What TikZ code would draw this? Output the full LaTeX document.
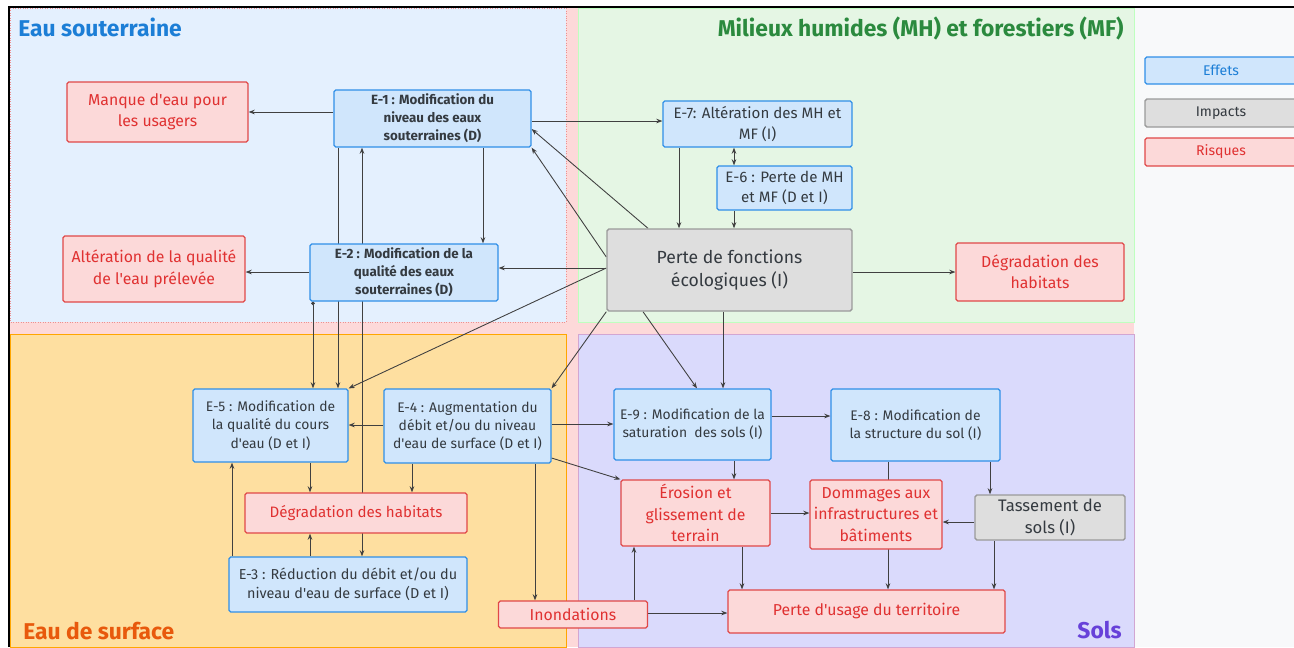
\documentclass[tikz,border=0pt]{standalone}
\usepackage{fontspec}
\setmainfont{Fira Sans}[Ligatures=TeXOff]
\usetikzlibrary{arrows.meta}

\definecolor{bleuzone}{HTML}{E4F0FE}
\definecolor{vertzone}{HTML}{E5F6E4}
\definecolor{orangezone}{HTML}{FEDFA0}
\definecolor{violetzone}{HTML}{DADAFC}
\definecolor{rosezone}{HTML}{FDD9D9}
\definecolor{fondgris}{HTML}{F8F9FA}
\definecolor{effetfill}{HTML}{D0E6FC}
\definecolor{effetline}{HTML}{2F8FE8}
\definecolor{risquefill}{HTML}{FCD9D9}
\definecolor{risqueline}{HTML}{E04848}
\definecolor{risquetext}{HTML}{E03131}
\definecolor{impactfill}{HTML}{DEDEDE}
\definecolor{impactline}{HTML}{9A9A9A}
\definecolor{texte}{HTML}{343A40}
\definecolor{gristrait}{HTML}{404040}
\definecolor{titrebleu}{HTML}{1C7ED6}
\definecolor{titrevert}{HTML}{2B8A3E}
\definecolor{titreorange}{HTML}{E8590C}
\definecolor{titreviolet}{HTML}{6741D9}

\pgfdeclarelayer{zones}
\pgfdeclarelayer{links}
\pgfsetlayers{zones,links,main}

\begin{document}
\begin{tikzpicture}[x=0.02cm, y=-0.02cm,
    effet/.style={draw=effetline, fill=effetfill, line width=0.7pt, rounded corners=1pt, align=center, text=texte, inner sep=1pt, font=\fontsize{7.9}{10.3}\selectfont},
    risque/.style={draw=risqueline, fill=risquefill, line width=0.7pt, rounded corners=1pt, align=center, text=risquetext, inner sep=1pt, font=\fontsize{9}{12.2}\selectfont},
    impact/.style={draw=impactline, fill=impactfill, line width=0.8pt, rounded corners=1pt, align=center, text=texte, inner sep=1pt, font=\fontsize{9.5}{13}\selectfont},
    lien/.style={draw=gristrait, line width=0.5pt, -{Stealth[length=3.5pt, width=2.6pt]}},
    doublelien/.style={lien, {Stealth[length=3.5pt, width=2.6pt]}-{Stealth[length=3.5pt, width=2.6pt]}},
    titre/.style={font=\fontsize{13}{15}\selectfont\bfseries, inner sep=0pt}]
    \useasboundingbox (0,0) rectangle (1294,647);

    % zones
    \begin{pgfonlayer}{zones}
        \fill[white] (0,0) rectangle (1294,647);
        \fill[fondgris] (9,7) rectangle (1294,647);
        \fill[rosezone] (10,8) rectangle (1134,647);
        \filldraw[fill=bleuzone, draw=risqueline!60, densely dotted, line width=0.4pt] (10,8) rectangle (566,322);
        \filldraw[fill=vertzone, draw=green!25!white, line width=0.4pt] (578,8) rectangle (1134,322);
        \filldraw[fill=orangezone, draw=orange!70!yellow, line width=0.4pt] (10,334) rectangle (566,647);
        \filldraw[fill=violetzone, draw=violet!35!white, line width=0.4pt] (578,334) rectangle (1134,647);
        \draw[black, line width=1.2pt] (9,647) -- (9,7) -- (1294,7);
    \end{pgfonlayer}

    \node[titre, text=titrebleu, anchor=west] (tsout) at (18,27) {Eau souterraine};
    \node[titre, text=titrevert, anchor=east] (tmilieux) at (1124,28) {Milieux humides (MH) et forestiers (MF)};
    \node[titre, text=titreorange, anchor=west] (tsurface) at (23,631) {Eau de surface};
    \node[titre, text=titreviolet, anchor=east] (tsols) at (1122,630) {Sols};

    % legende
    \node[effet, text=titrebleu, minimum width=3.04cm, minimum height=0.54cm, font=\fontsize{8}{10}\selectfont] (leffets) at (1221,70.5) {Effets};
    \node[impact, minimum width=3.04cm, minimum height=0.56cm, font=\fontsize{8}{10}\selectfont] (limpacts) at (1221,113) {Impacts};
    \node[risque, minimum width=3.04cm, minimum height=0.56cm, font=\fontsize{8}{10}\selectfont] (lrisques) at (1221,152) {Risques};

    % eau souterraine
    \node[risque, minimum width=3.62cm, minimum height=1.2cm] (manque) at (157.5,112) {Manque d'eau pour\\les usagers};
    \node[effet, minimum width=3.94cm, minimum height=1.14cm, font=\fontsize{7.6}{10.3}\selectfont\bfseries] (e1) at (432.5,118.5) {E-1 : Modification du\\niveau des eaux\\souterraines (D)};
    \node[risque, minimum width=3.64cm, minimum height=1.32cm] (alteration) at (154,269) {Altération de la qualité\\de l'eau prélevée};
    \node[effet, minimum width=3.76cm, minimum height=1.14cm, font=\fontsize{7.6}{10.3}\selectfont\bfseries] (e2) at (404,272.5) {E-2 : Modification de la\\qualité des eaux\\souterraines (D)};

    % milieux humides
    \node[effet, minimum width=3.78cm, minimum height=0.92cm, font=\fontsize{8.6}{11.8}\selectfont] (e7) at (757.5,124) {E-7: Altération des MH et\\MF (I)};
    \node[effet, minimum width=2.7cm, minimum height=0.88cm, font=\fontsize{8.6}{11.8}\selectfont] (e6) at (784.5,188) {E-6 : Perte de MH\\et MF (D et I)};
    \node[impact, minimum width=4.9cm, minimum height=1.64cm, font=\fontsize{10}{13.6}\selectfont] (perte) at (729.5,270) {Perte de fonctions\\écologiques (I)};
    \node[risque, minimum width=3.36cm, minimum height=1.16cm] (degrmh) at (1040,272) {Dégradation des\\habitats};

    % eau de surface
    \node[effet, minimum width=3.1cm, minimum height=1.46cm] (e5) at (270.5,425.5) {E-5 : Modification de\\la qualité du cours\\d'eau (D et I)};
    \node[effet, minimum width=3.34cm, minimum height=1.48cm] (e4) at (467.5,426) {E-4 : Augmentation du\\débit et/ou du niveau\\d'eau de surface (D et I)};
    \node[risque, minimum width=4.44cm, minimum height=0.8cm, font=\fontsize{8.6}{11}\selectfont] (degres) at (356,513) {Dégradation des habitats};
    \node[effet, minimum width=4.76cm, minimum height=1.1cm, font=\fontsize{8.2}{10.8}\selectfont] (e3) at (348,584.5) {E-3 : Réduction du débit et/ou du\\niveau d'eau de surface (D et I)};
    \node[risque, minimum width=2.98cm, minimum height=0.54cm] (inond) at (573,614.5) {Inondations};

    % sols
    \node[effet, minimum width=3.14cm, minimum height=1.42cm] (e9) at (692.5,424.5) {E-9 : Modification de la\\saturation\ \ des sols (I)};
    \node[effet, minimum width=3.38cm, minimum height=1.44cm] (e8) at (915.5,425) {E-8 : Modification de\\la structure du sol (I)};
    \node[risque, minimum width=2.98cm, minimum height=1.32cm] (erosion) at (695.5,513) {Érosion et\\glissement de\\terrain};
    \node[risque, minimum width=2.64cm, minimum height=1.38cm] (dommages) at (876,514.5) {Dommages aux\\infrastructures et\\bâtiments};
    \node[impact, minimum width=3cm, minimum height=0.9cm] (tassement) at (1050,517.5) {Tassement de\\sols (I)};
    \node[risque, minimum width=5.54cm, minimum height=0.86cm] (perteusage) at (866.5,611.5) {Perte d'usage du territoire};

    \begin{pgfonlayer}{links}
        \draw[lien] (e1.west |- manque.east) -- (manque.east);
        \draw[lien] (e1.east |- 0,121) -- (e7.west |- 0,121);
        \draw[lien] (e1.south -| 483,0) -- (e2.north -| 483,0);
        \draw[lien] (e1.south -| 338,0) -- (e5.north -| 338,0);
        \draw[doublelien] (e1.south -| 362,0) -- (e3.north -| 362,0);
        \draw[lien] (e2.west |- 0,272) -- (alteration.east |- 0,272);
        \draw[lien, {Circle[length=2pt]}-{Stealth[length=3.5pt, width=2.6pt]}] (e2.south -| 313,0) -- (e5.north -| 313,0);

        \draw[lien] (perte.north -| 648,0) -- (e1.east |- 0,129);
        \draw[lien] (perte.west |- 0,257) -- (e1.south east);
        \draw[lien] (perte.west |- 0,268) -- (e2.east |- 0,268);
        \draw[lien] (perte.west |- 0,268) -- (e5.north east);
        \draw[lien] (perte.south west) -- (e4.north east);
        \draw[lien] (perte.south -| 643,0) -- (e9.north -| 697,0);
        \draw[lien] (perte.south -| 723,0) -- (e9.north -| 723,0);
        \draw[lien] (perte.east |- degrmh.west) -- (degrmh.west);
        \draw[lien] (e7.south -| 679,0) -- (perte.north -| 679,0);
        \draw[doublelien] (e7.south -| 734,0) -- (e6.north -| 734,0);
        \draw[lien] (e6.south -| 734,0) -- (perte.north -| 734,0);

        \draw[lien] (e4.west |- 0,425) -- (e5.east |- 0,425);
        \draw[lien] (e4.east |- 0,424) -- (e9.west |- 0,424);
        \draw[lien] (e4.east |- 0,458) -- (erosion.north west);
        \draw[lien] (e4.south -| 412,0) -- (degres.north -| 412,0);
        \draw[lien] (e4.south -| 535,0) -- (inond.north -| 535,0);
        \draw[lien] (e5.south -| 310,0) -- (degres.north -| 310,0);
        \draw[lien] (e3.north -| 310,0) -- (degres.south -| 310,0);
        \draw[lien] (e3.north -| 232,0) -- (e5.south -| 232,0);

        \draw[lien] (e9.east |- 0,416) -- (e8.west |- 0,416);
        \draw[lien] (e9.south -| 734,0) -- (erosion.north -| 734,0);
        \draw[lien] (erosion.east) -- (dommages.west |- erosion.east);
        \draw[lien] (tassement.west |- 0,522) -- (dommages.east |- 0,522);
        \draw[lien] (e8.south -| 990,0) -- (tassement.north -| 990,0);
        \draw[lien] (e8.south -| 888,0) -- (perteusage.north -| 888,0);
        \draw[lien] (tassement.south -| 994,0) -- (perteusage.north -| 994,0);
        \draw[lien] (erosion.south -| 742,0) -- (perteusage.north -| 742,0);
        \draw[lien] (inond.north -| 634,0) -- (erosion.south -| 634,0);
        \draw[lien] (inond.east |- 0,613) -- (perteusage.west |- 0,613);
    \end{pgfonlayer}
\end{tikzpicture}
\end{document}
